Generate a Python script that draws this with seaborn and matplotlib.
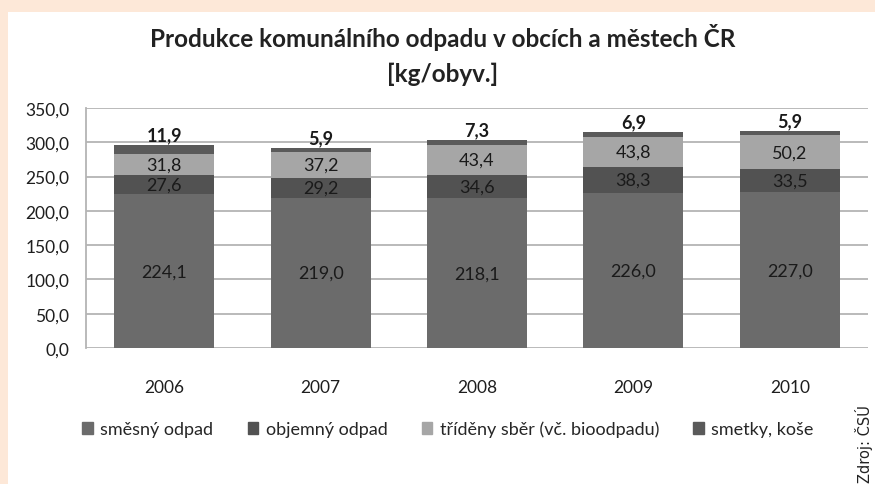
import numpy as np
import pandas as pd
import seaborn as sns
import matplotlib.pyplot as plt
import matplotlib.patches as mpatches

years = ['2006', '2007', '2008', '2009', '2010']
smesny = [224.1, 219.0, 218.1, 226.0, 227.0]
objemny = [27.6, 29.2, 34.6, 38.3, 33.5]
trideny = [31.8, 37.2, 43.4, 43.8, 50.2]
smetky = [11.9, 5.9, 7.3, 6.9, 5.9]

series_names = ['směsný odpad', 'objemný odpad', 'tříděny sběr (vč. bioodpadu)', 'smetky, koše']
colors = ['#6b6b6b', '#525252', '#a6a6a6', '#5a5a5a']
title = 'Produkce komunálního odpadu v obcích a městech ČR\n[kg/obyv.]'
yticks = [0, 50, 100, 150, 200, 250, 300, 350]

df = pd.DataFrame({'rok': years, 's1': smesny, 's2': objemny, 's3': trideny, 's4': smetky})
# cumulative sums for stacking (draw biggest first, then cover it)
df['c1'] = df['s1']
df['c2'] = df['c1'] + df['s2']
df['c3'] = df['c2'] + df['s3']
df['c4'] = df['c3'] + df['s4']

sns.set_theme(style="white")
plt.rcParams['font.family'] = ['Lato', 'DejaVu Sans']

fig = plt.figure(figsize=(8.75, 4.85), dpi=100)
fig.patch.set_facecolor('#fde8d8')
# white panel inside the peach frame
fig.patches.append(mpatches.Rectangle((8 / 875, 0), 1, 1 - 13 / 485, transform=fig.transFigure,
                                      facecolor='white', edgecolor='none', zorder=-10))
ax = fig.add_axes([86 / 875, 1 - 349 / 485, (868 - 86) / 875, (349 - 109) / 485])
ax.set_zorder(1)
ax.set_facecolor('white')

for col, c in zip(['c4', 'c3', 'c2', 'c1'], colors[::-1]):
    sns.barplot(data=df, x='rok', y=col, color=c, width=0.64, saturation=1,
                edgecolor='none', linewidth=0, ax=ax, zorder=3)

ax.set_ylim(0, 350)
ax.set_xlim(-0.5, 4.5)
ax.set_yticks(yticks)
ax.set_yticklabels([f'{v:.1f}'.replace('.', ',') for v in yticks])
ax.yaxis.grid(True, color='#b4b4b4', linewidth=1.3, zorder=0)
ax.set_axisbelow(True)
for s in ['top', 'right', 'bottom']:
    ax.spines[s].set_visible(False)
ax.spines['left'].set_color('#b4b4b4')
ax.spines['left'].set_linewidth(1.3)
ax.tick_params(axis='y', labelsize=12.5, pad=12, length=0, labelcolor='#1e1e1e')
ax.tick_params(axis='x', labelsize=12.5, pad=22, length=0, labelcolor='#1e1e1e')
ax.set_xlabel('')
ax.set_ylabel('')

# data labels
fmt = lambda v: f'{v:.1f}'.replace('.', ',')
for i in range(len(years)):
    ax.text(i, smesny[i] / 2, fmt(smesny[i]), ha='center', va='center', fontsize=13, color='#1a1a1a', zorder=5)
    ax.text(i, df['c1'][i] + objemny[i] / 2, fmt(objemny[i]), ha='center', va='center', fontsize=13, color='#1a1a1a', zorder=5)
    ax.text(i, df['c2'][i] + trideny[i] / 2, fmt(trideny[i]), ha='center', va='center', fontsize=13, color='#1a1a1a', zorder=5)
    ax.text(i, df['c4'][i] + 3, fmt(smetky[i]), ha='center', va='bottom', fontsize=13, fontweight='bold', color='#1a1a1a', zorder=5)

fig.suptitle(title, x=0.506, y=1 - 24 / 485, va='top', fontsize=17.5, fontweight='bold', color='#222222', linespacing=1.6)

handles = [mpatches.Patch(color=c, label=n) for c, n in zip(colors, series_names)]
fig.legend(handles=handles, loc='center', bbox_to_anchor=(0.512, 1 - 430 / 485), ncol=4, frameon=False,
           fontsize=13, handlelength=0.6, handleheight=0.6, handletextpad=0.4, columnspacing=1.9)

fig.text(0.987, 0.004, 'Zdroj: ČSÚ', rotation=90, ha='center', va='bottom', fontsize=10.5,
         family='DejaVu Sans', color='#222222')

fig.savefig('out.png', dpi=100, facecolor=fig.get_facecolor())
